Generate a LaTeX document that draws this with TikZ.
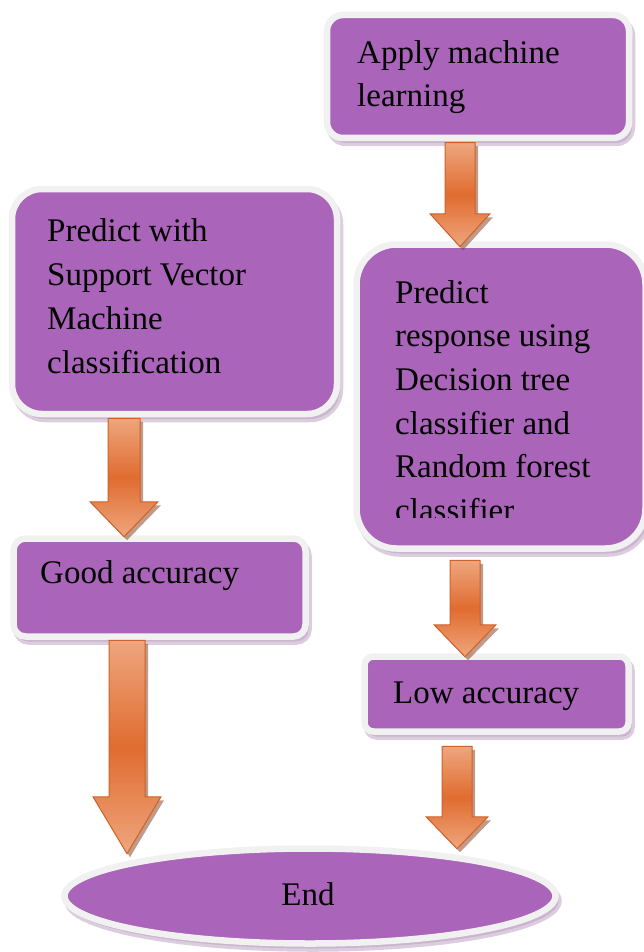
\documentclass[tikz,border=0pt]{standalone}
\usepackage{fontspec}
\setmainfont{Liberation Serif}
\usetikzlibrary{shapes.geometric,shadows,calc}

\definecolor{boxpurple}{RGB}{170,100,185}
\definecolor{boxedge}{RGB}{241,241,241}
\definecolor{boxshadow}{RGB}{184,156,190}
\definecolor{arrowlight}{RGB}{238,166,126}
\definecolor{arrowdark}{RGB}{224,108,48}
\definecolor{arrowedge}{RGB}{206,96,40}
\definecolor{arrowshadow}{RGB}{130,56,20}

\tikzset{
  box/.style={draw=boxedge, line width=6.5pt, fill=boxpurple, rounded corners=#1, inner sep=0pt,
    drop shadow={shadow xshift=3pt, shadow yshift=-5pt, fill=boxshadow, draw=boxshadow, line width=6.5pt}},
  endbox/.style={ellipse, draw=boxedge, line width=6.5pt, fill=boxpurple, inner sep=0pt,
    drop shadow={shadow xshift=3pt, shadow yshift=-5pt, fill=boxshadow, draw=boxshadow, line width=6.5pt}},
  txt/.style={anchor=base west, align=left, inner sep=0pt, font=\fontsize{33}{43.7}\selectfont},
  arrowbody/.style={draw=arrowedge, line width=1pt, top color=arrowlight, bottom color=arrowlight,
    middle color=arrowdark, drop shadow={shadow xshift=3pt, shadow yshift=-3.5pt, fill=arrowshadow}}
}

% block arrow: start, end, half shaft, half head, head length
\newcommand{\blockarrow}[5]{%
  \path[arrowbody] let \p1=#1, \p2=#2 in
    (\x1-#3,\y1) -- (\x1+#3,\y1) -- (\x1+#3,\y2+#5) -- (\x1+#4,\y2+#5)
    -- (\x1,\y2) -- (\x1-#4,\y2+#5) -- (\x1-#3,\y2+#5) -- cycle;}

\begin{document}
\begin{tikzpicture}[x=1pt, y=-1pt]
  \useasboundingbox (0,0) rectangle (644,952);

  % boxes
  \node[box=16, minimum width=302, minimum height=123] (apply) at (478,76.5) {};
  \node[box=30, minimum width=325, minimum height=225] (svm)   at (174.5,301.5) {};
  \node[box=40, minimum width=289, minimum height=304] (trees) at (501,396.5) {};
  \node[box=12, minimum width=292, minimum height=98]  (good)  at (159.5,587.5) {};
  \node[box=9,  minimum width=264, minimum height=75]  (low)   at (496.5,694) {};
  \node[endbox, minimum width=491, minimum height=95]  (stop)  at (310,896) {};

  % texts (base = last line)
  \node[txt] (applytxt) at (357,107)  {Apply machine\\learning};
  \node[txt] (svmtxt)   at (47,373)   {Predict with\\Support Vector\\Machine\\classification};
  \begin{scope}
    \clip (trees.north west) rectangle ($(trees.east)+(0,120.5)$);
    \node[txt] (treestxt) at (395,521.5) {Predict\\response using\\Decision tree\\classifier and\\Random forest\\classifier};
  \end{scope}
  \node[txt] (goodtxt)  at (40,583)  {Good accuracy};
  \node[txt] (lowtxt)   at (393,703) {Low accuracy};
  \node[txt, anchor=base] (stoptxt) at (308,905) {End};

  % arrows
  \blockarrow{($(apply.south)+(-18,1.5)$)}{($(trees.north)+(0,5.5)$)}{15pt}{30pt}{33pt}
  \blockarrow{($(svm.south)+(-50.5,1)$)}{($(good.north)+(0,1.5)$)}{16pt}{34pt}{35pt}
  \blockarrow{($(trees.south)+(-36,8.5)$)}{($(low.north)+(0,3.5)$)}{15pt}{31pt}{32pt}
  \blockarrow{($(good.south)+(-32.5,0.5)$)}{($(stop.north)+(0,8.5)$)}{18pt}{34pt}{57pt}
  \blockarrow{($(low.south)+(-39.5,11.5)$)}{($(stop.north)+(0,3.5)$)}{15pt}{31pt}{32pt}
\end{tikzpicture}
\end{document}
